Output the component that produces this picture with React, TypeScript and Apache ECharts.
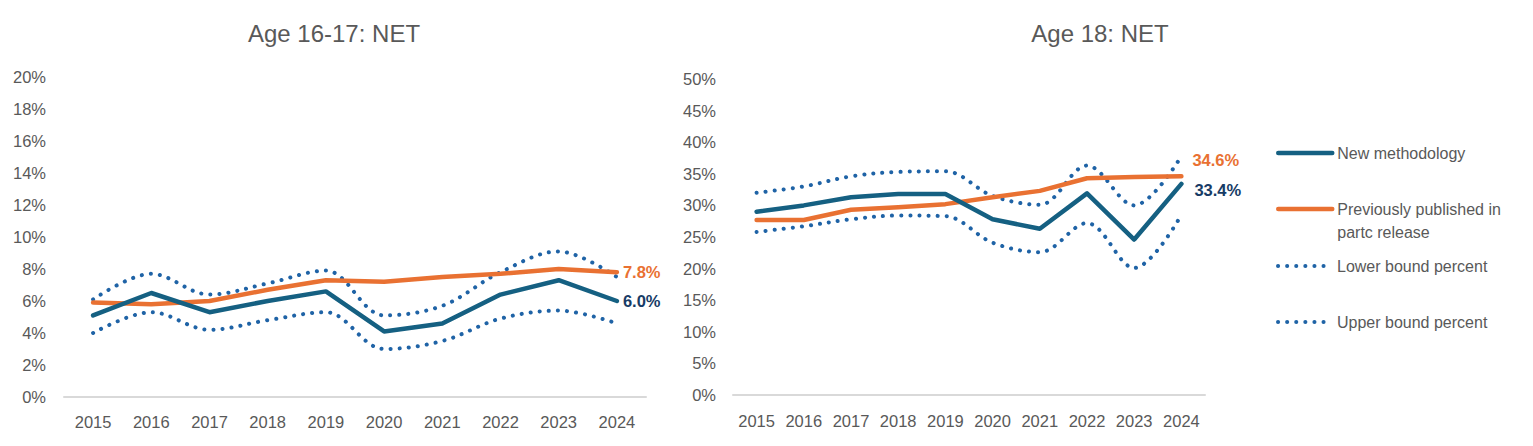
import React, { useEffect, useRef } from "react";
import * as echarts from "echarts";

const years = ["2015", "2016", "2017", "2018", "2019", "2020", "2021", "2022", "2023", "2024"];

// Age 16-17 (percent)
const newMeth1617 = [5.1, 6.5, 5.3, 6.0, 6.6, 4.1, 4.6, 6.4, 7.3, 6.0];
const prevPub1617 = [5.9, 5.8, 6.0, 6.7, 7.3, 7.2, 7.5, 7.7, 8.0, 7.8];
const lower1617 = [4.0, 5.3, 4.2, 4.8, 5.3, 3.0, 3.5, 4.9, 5.4, 4.6];
const upper1617 = [6.1, 7.7, 6.4, 7.1, 7.9, 5.1, 5.7, 7.8, 9.1, 7.5];

// Age 18 (percent)
const newMeth18 = [29.0, 30.0, 31.3, 31.8, 31.8, 27.8, 26.3, 31.9, 24.6, 33.4];
const prevPub18 = [27.7, 27.7, 29.3, 29.7, 30.2, 31.3, 32.3, 34.3, 34.5, 34.6];
const lower18 = [25.8, 26.7, 27.8, 28.4, 28.3, 24.1, 22.6, 27.2, 20.1, 28.5];
const upper18 = [32.0, 33.0, 34.6, 35.3, 35.4, 31.5, 30.1, 36.3, 30.0, 37.8];

const NAME_NEW = "New methodology";
const NAME_PREV = "Previously published in partc release";
const NAME_LOW = "Lower bound percent";
const NAME_UP = "Upper bound percent";

const FONT = "Liberation Sans";
const GRAY = "#595959";
const TEAL = "#156082";
const ORANGE = "#E97132";
const DOT = "#1F63A6";
const NAVY = "#173C66";

function endLabel(color: string, distance: number, offset: number[]) {
  return {
    show: true,
    distance,
    offset,
    color,
    fontFamily: FONT,
    fontSize: 16.5,
    fontWeight: "bold",
    formatter: (p: any) => `${Number(p.value).toFixed(1)}%`,
  };
}

function lineSeries(name: string, data: number[], idx: number, kind: "new" | "prev" | "dot", label?: any) {
  const base: any = {
    type: "line",
    name,
    xAxisIndex: idx,
    yAxisIndex: idx,
    data,
    symbol: "none",
    silent: true,
  };
  if (kind === "new") {
    base.lineStyle = { color: TEAL, width: 4.5, cap: "round", join: "round" };
    base.itemStyle = { color: TEAL };
    base.z = 4;
  } else if (kind === "prev") {
    base.lineStyle = { color: ORANGE, width: 4.5, cap: "round", join: "round" };
    base.itemStyle = { color: ORANGE };
    base.z = 3;
  } else {
    base.lineStyle = { color: DOT, width: 4, type: [0.1, 9], cap: "round", join: "round" };
    base.itemStyle = { color: DOT };
    base.smooth = 0.35;
    base.z = 2;
  }
  if (label) base.endLabel = label;
  return base;
}

function legendItem(name: string, top: number) {
  return {
    data: [name],
    left: 1276,
    top,
    orient: "vertical",
    padding: 0,
    itemWidth: 54,
    itemHeight: 20,
    selectedMode: false,
    itemStyle: { color: "rgba(0,0,0,0)", borderWidth: 0, opacity: 0 },
    lineStyle: { width: "inherit", type: "inherit", cap: "round" },
    formatter: (n: string) => (n === NAME_PREV ? " \nPreviously published in\npartc release" : n),
    textStyle:
      name === NAME_PREV
        ? { color: GRAY, fontFamily: FONT, fontSize: 16, lineHeight: 23 }
        : { color: GRAY, fontFamily: FONT, fontSize: 16, lineHeight: 20 },
  };
}

export default function App() {
  const ref = useRef<HTMLDivElement>(null);

  useEffect(() => {
    if (!ref.current) return;
    const chart = echarts.init(ref.current, undefined, { renderer: "svg" });

    const xAxisCommon = {
      type: "category",
      data: years,
      boundaryGap: true,
      axisLine: { lineStyle: { color: "#D9D9D9", width: 2 } },
      axisTick: { show: false },
      splitLine: { show: false },
    };

    const yAxisCommon = {
      type: "value",
      min: 0,
      axisLine: { show: false },
      axisTick: { show: false },
      splitLine: { show: false },
    };

    const titleStyle = { color: GRAY, fontFamily: FONT, fontSize: 24, fontWeight: "normal", lineHeight: 28 };

    const option: any = {
      animation: false,
      backgroundColor: "#FFFFFF",
      title: [
        { text: "Age 16-17: NET", left: 334, top: 19, textAlign: "center", padding: 0, textStyle: titleStyle },
        { text: "Age 18: NET", left: 1100, top: 19, textAlign: "center", padding: 0, textStyle: titleStyle },
      ],
      legend: [
        legendItem(NAME_NEW, 143),
        legendItem(NAME_PREV, 174.5),
        legendItem(NAME_LOW, 256),
        legendItem(NAME_UP, 312),
      ],
      grid: [
        { left: 64, top: 77, width: 582, height: 320 },
        { left: 733, top: 79, width: 472, height: 316 },
      ],
      xAxis: [
        {
          ...xAxisCommon,
          gridIndex: 0,
          axisLabel: { color: GRAY, fontFamily: FONT, fontSize: 16.5, margin: 16, interval: 0 },
        },
        {
          ...xAxisCommon,
          gridIndex: 1,
          axisLabel: { color: GRAY, fontFamily: FONT, fontSize: 16.5, margin: 17, interval: 0 },
        },
      ],
      yAxis: [
        {
          ...yAxisCommon,
          gridIndex: 0,
          max: 20,
          interval: 2,
          axisLabel: { color: GRAY, fontFamily: FONT, fontSize: 16.5, margin: 18, formatter: "{value}%" },
        },
        {
          ...yAxisCommon,
          gridIndex: 1,
          max: 50,
          interval: 5,
          axisLabel: { color: GRAY, fontFamily: FONT, fontSize: 16.5, margin: 17, formatter: "{value}%" },
        },
      ],
      series: [
        lineSeries(NAME_LOW, lower1617, 0, "dot"),
        lineSeries(NAME_UP, upper1617, 0, "dot"),
        lineSeries(NAME_NEW, newMeth1617, 0, "new", endLabel(NAVY, 6, [0, 0])),
        lineSeries(NAME_PREV, prevPub1617, 0, "prev", endLabel(ORANGE, 6, [0, 0])),
        lineSeries(NAME_LOW, lower18, 1, "dot"),
        lineSeries(NAME_UP, upper18, 1, "dot"),
        lineSeries(NAME_NEW, newMeth18, 1, "new", endLabel(NAVY, 13, [0, 6])),
        lineSeries(NAME_PREV, prevPub18, 1, "prev", endLabel(ORANGE, 11, [0, -16])),
      ],
    };

    chart.setOption(option);
    return () => chart.dispose();
  }, []);

  return (
    <div
      ref={ref}
      style={{ position: "absolute", left: 0, top: 0, width: 1533, height: 446, background: "#fff" }}
    />
  );
}
